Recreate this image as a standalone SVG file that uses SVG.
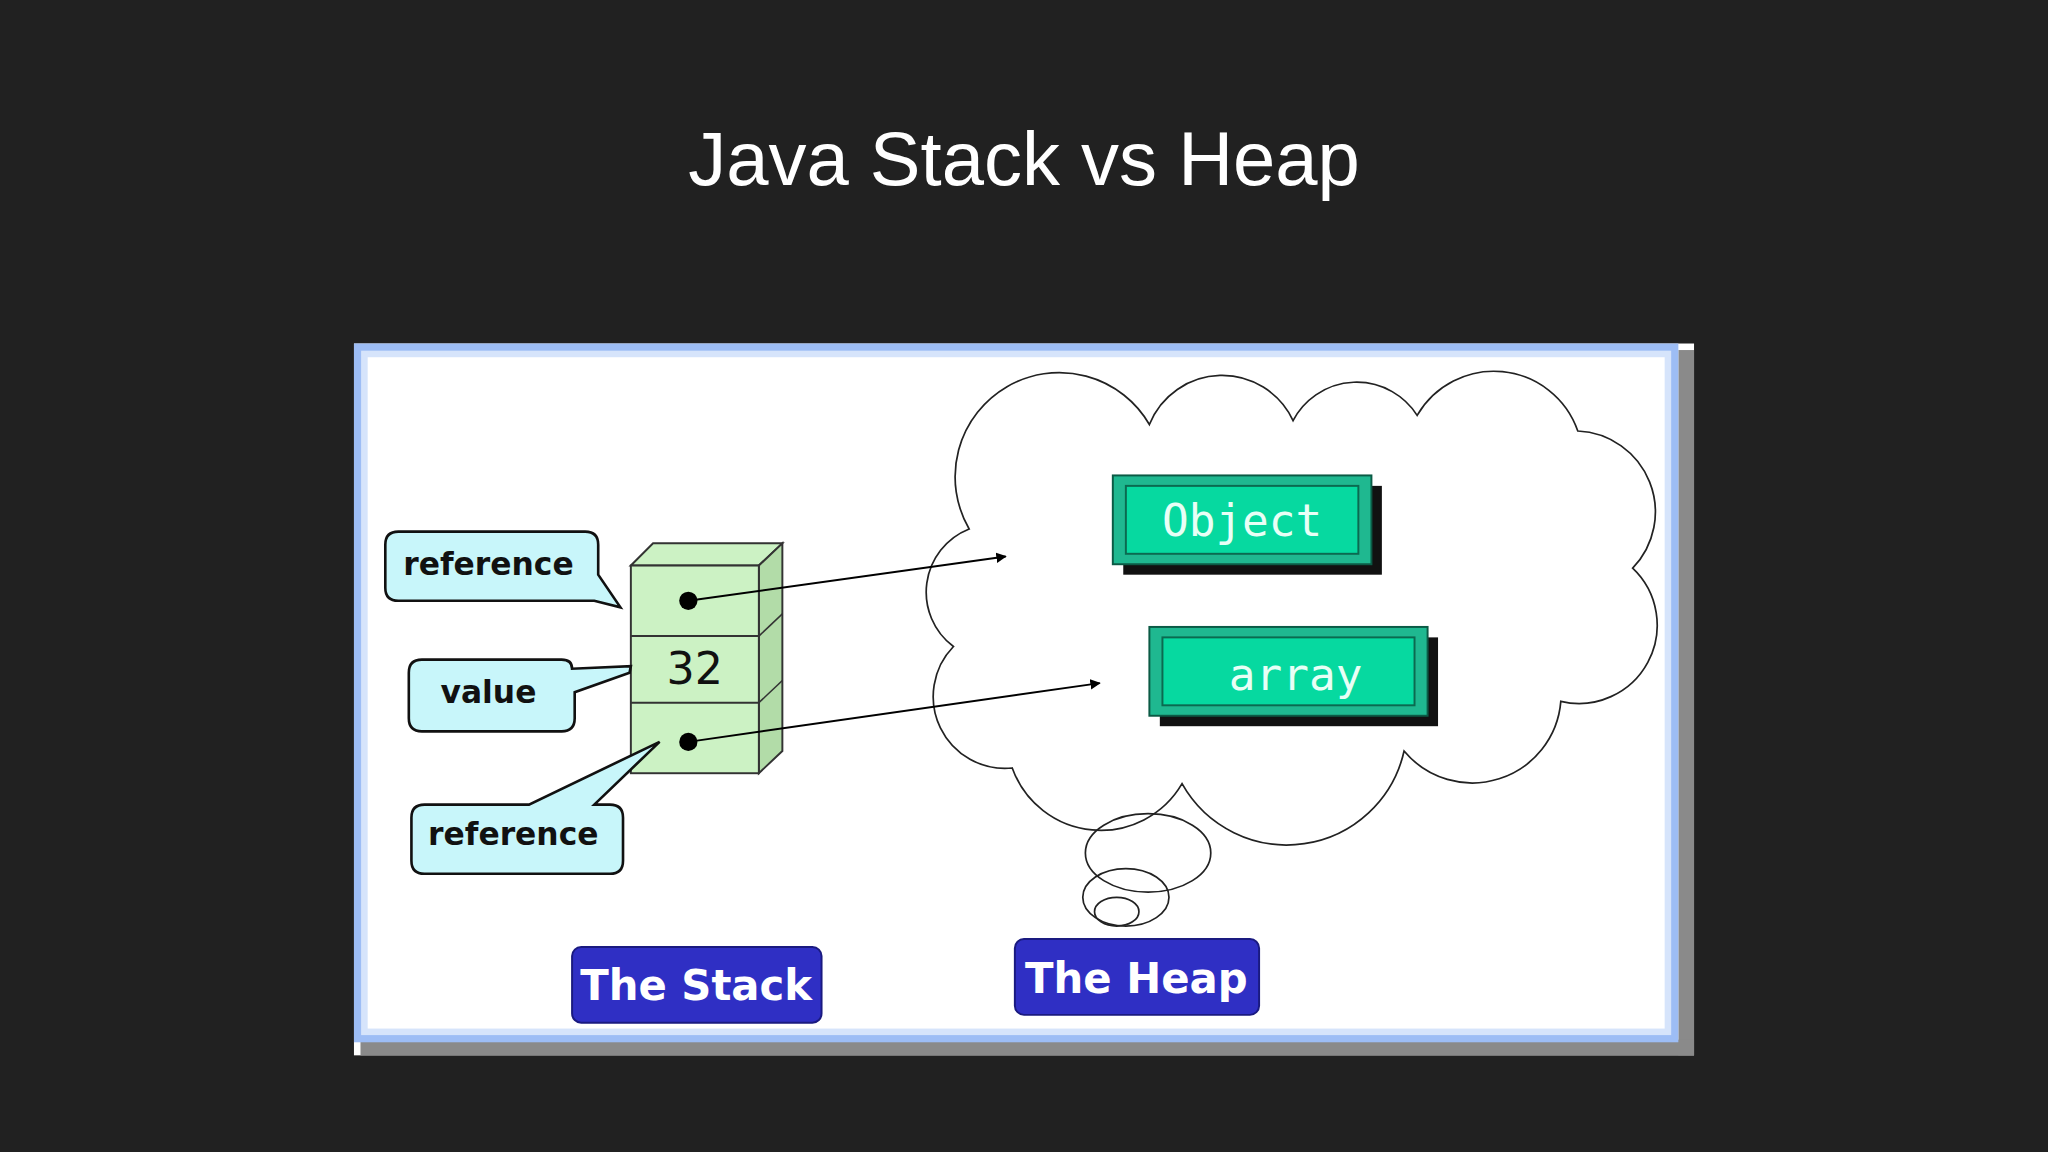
<svg xmlns="http://www.w3.org/2000/svg" width="2048" height="1152" viewBox="0 0 2048 1152">
<defs>
<style>
.call{fill:#c8f6fa;stroke:#111;stroke-width:2}
.ct{font-family:"DejaVu Sans",sans-serif;font-weight:bold;font-size:24px;fill:#111;text-anchor:middle}
.lbl{fill:#2f2fc4;stroke:#1a1a80;stroke-width:1.5}
.lt{font-family:"DejaVu Sans",sans-serif;font-weight:bold;font-size:32px;fill:#fff;text-anchor:middle}
.bx{font-family:"DejaVu Sans Mono",monospace;font-size:34px;fill:#e8fff6;text-anchor:middle}
.face{fill:#ccf2c4;stroke:#333;stroke-width:1.5}
.cl{fill:none;stroke:#222;stroke-width:1.3}
</style>
<marker id="ah" viewBox="0 0 10 10" refX="9" refY="5" markerWidth="8" markerHeight="8" orient="auto" markerUnits="userSpaceOnUse"><path d="M0,0L10,5L0,10z" fill="#000"/></marker>
<linearGradient id="bl" x1="0" y1="0" x2="1" y2="0"><stop offset="0" stop-color="#8fb5f5"/><stop offset="1" stop-color="#ffffff"/></linearGradient>
</defs>
<rect width="2048" height="1152" fill="#212121"/>
<text x="1024" y="185" font-family="Liberation Sans, Arial, sans-serif" font-size="76" fill="#fff" text-anchor="middle">Java Stack vs Heap</text>
<g transform="scale(1.30612)">
<g id="panel">
<rect x="271" y="263" width="1026" height="545" fill="#ffffff"/>
<rect x="1285" y="268" width="12" height="540" fill="#8a8a8a"/>
<rect x="276" y="796" width="1021" height="12" fill="#8a8a8a"/>
<rect x="274" y="266" width="1008" height="529" fill="none" stroke="#9dbdf5" stroke-width="6"/>
<rect x="279" y="271" width="998" height="519" fill="none" stroke="#d6e4fb" stroke-width="5"/>
</g>
<g id="cloud">
<path class="cl" fill="#fff" d="M742,405 A75,75 0 0 1 880,325 A60,60 0 0 1 990,322 A55,55 0 0 1 1085,318 A68,68 0 0 1 1208,330 A62,62 0 0 1 1250,435 A60,60 0 0 1 1195,537 A68,68 0 0 1 1075,575 A92,92 0 0 1 905,600 A72,72 0 0 1 775,588 A55,55 0 0 1 730,495 A52,52 0 0 1 742,405 Z" style="fill:#fff"/>
<ellipse class="cl" cx="879" cy="653" rx="48" ry="30"/>
<ellipse class="cl" cx="862" cy="687" rx="33" ry="22"/>
<ellipse class="cl" cx="855" cy="698" rx="17" ry="11"/>
</g>
<g id="object">
<rect x="860" y="372" width="198" height="68" fill="#111"/>
<rect x="852" y="364" width="198" height="68" fill="#1fb890" stroke="#0b5a45" stroke-width="1.5"/>
<rect x="862" y="372" width="178" height="52" fill="#06d9a0" stroke="#0b6a50" stroke-width="1.5"/>
<text class="bx" x="951" y="410">Object</text>
</g>
<g id="array">
<rect x="888" y="488" width="213" height="68" fill="#111"/>
<rect x="880" y="480" width="213" height="68" fill="#1fb890" stroke="#0b5a45" stroke-width="1.5"/>
<rect x="890" y="488" width="193" height="52" fill="#06d9a0" stroke="#0b6a50" stroke-width="1.5"/>
<text class="bx" x="992" y="528">array</text>
</g>
<g id="stack">
<polygon class="face" points="483,433 500,416 599,416 581,433"/>
<polygon points="581,433 599,416 599,575 581,592" fill="#b2dca8" stroke="#333" stroke-width="1.5"/>
<rect class="face" x="483" y="433" width="98" height="159"/>
<line x1="483" y1="487" x2="581" y2="487" stroke="#333" stroke-width="1.5"/>
<line x1="483" y1="538" x2="581" y2="538" stroke="#333" stroke-width="1.5"/>
<line x1="581" y1="487" x2="599" y2="470" stroke="#333" stroke-width="1.2"/>
<line x1="581" y1="538" x2="599" y2="521" stroke="#333" stroke-width="1.2"/>
<text x="532" y="524" font-family="DejaVu Sans, sans-serif" font-size="34" fill="#111" text-anchor="middle">32</text>
<circle cx="527" cy="460" r="7" fill="#000"/>
<circle cx="527" cy="568" r="7" fill="#000"/>
</g>
<g id="callouts">
<path class="call" d="M305,407 H448 Q458,407 458,417 V440 L475,465 L455,460 H305 Q295,460 295,450 V417 Q295,407 305,407Z"/>
<text class="ct" x="374" y="440">reference</text>
<path class="call" d="M323,505 H430 Q438,505 438,512 L483,510 L482,515 L440,530 V550 Q440,560 430,560 H323 Q313,560 313,550 V515 Q313,505 323,505Z"/>
<text class="ct" x="374" y="538">value</text>
<path class="call" d="M325,616 H405 L505,568 L455,616 H467 Q477,616 477,626 V659 Q477,669 467,669 H325 Q315,669 315,659 V626 Q315,616 325,616Z"/>
<text class="ct" x="393" y="647">reference</text>
</g>
<g id="connectors">
<line x1="527" y1="460" x2="770" y2="426" stroke="#000" stroke-width="1.5" marker-end="url(#ah)"/>
<line x1="527" y1="568" x2="842" y2="523" stroke="#000" stroke-width="1.5" marker-end="url(#ah)"/>
</g>
<g id="stackLabel">
<rect class="lbl" x="438" y="725" width="191" height="58" rx="7"/>
<text class="lt" x="533" y="766">The Stack</text>
</g>
<g id="heapLabel">
<rect class="lbl" x="777" y="719" width="187" height="58" rx="7"/>
<text class="lt" x="870" y="760">The Heap</text>
</g>
</g>
</svg>
